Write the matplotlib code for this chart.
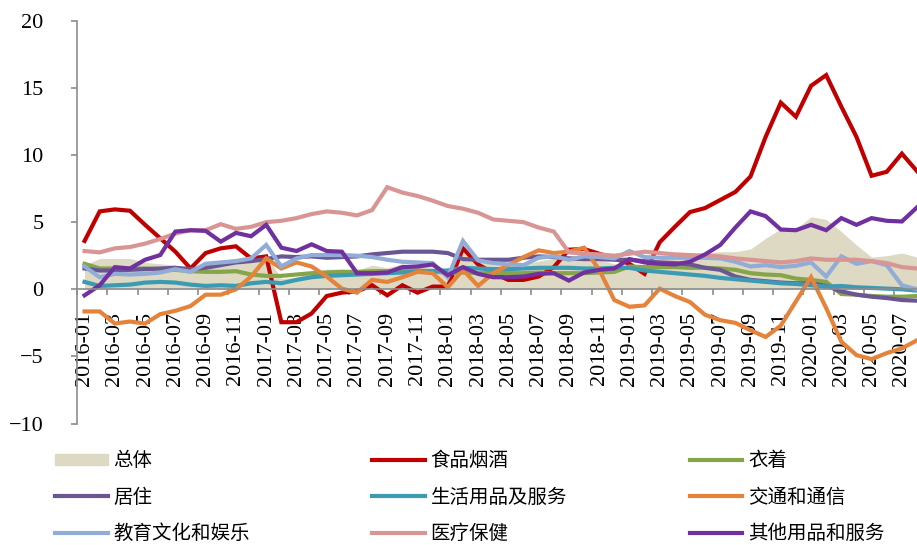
import numpy as np
import matplotlib
matplotlib.use("Agg")
import matplotlib.pyplot as plt
from matplotlib.patches import Patch

# months 2016-01 .. 2020-08
months = [f"{y}-{m:02d}" for y in range(2016, 2021) for m in range(1, 13)][:56]

total = [1.8, 2.3, 2.3, 2.3, 2.0, 1.9, 1.8, 1.3, 1.9, 2.1, 2.3, 2.1,
         2.5, 0.8, 0.9, 1.2, 1.5, 1.5, 1.4, 1.8, 1.6, 1.9, 1.7, 1.8,
         1.5, 2.9, 2.1, 1.8, 1.8, 1.9, 2.1, 2.3, 2.5, 2.5, 2.2, 1.9,
         1.7, 1.5, 2.3, 2.5, 2.7, 2.7, 2.8, 2.8, 3.0, 3.8, 4.5, 4.5,
         5.4, 5.2, 4.3, 3.3, 2.4, 2.5, 2.7, 2.4]

food = [3.6, 5.8, 5.95, 5.85, 4.8, 3.8, 2.8, 1.55, 2.7, 3.05, 3.2, 2.3,
        2.45, -2.45, -2.45, -1.8, -0.5, -0.25, -0.15, 0.3, -0.45, 0.3, -0.25, 0.2,
        0.2, 3.05, 1.85, 1.2, 0.7, 0.7, 0.95, 1.65, 2.95, 3.0, 2.65, 2.3,
        1.9, 1.15, 3.5, 4.65, 5.75, 6.05, 6.65, 7.25, 8.4, 11.35,
        13.9, 12.85, 15.15, 15.95, 13.6, 11.35, 8.45, 8.75, 10.1, 8.8]

clothing = [1.9, 1.55, 1.55, 1.55, 1.55, 1.5, 1.45, 1.35, 1.3, 1.3, 1.35, 1.1,
            1.0, 1.0, 1.1, 1.2, 1.25, 1.3, 1.3, 1.35, 1.35, 1.4, 1.4, 1.35,
            1.2, 1.25, 1.2, 1.2, 1.2, 1.2, 1.25, 1.2, 1.2, 1.2, 1.25, 1.3,
            1.7, 1.65, 1.65, 1.65, 1.6, 1.6, 1.55, 1.45, 1.2, 1.1,
            1.05, 0.8, 0.7, 0.55, -0.35, -0.4, -0.5, -0.55, -0.55, -0.5]

housing = [1.55, 1.4, 1.4, 1.45, 1.5, 1.55, 1.6, 1.5, 1.6, 1.8, 2.0, 2.1,
           2.25, 2.45, 2.4, 2.45, 2.35, 2.4, 2.45, 2.6, 2.7, 2.8, 2.8, 2.8,
           2.7, 2.25, 2.2, 2.2, 2.2, 2.35, 2.45, 2.4, 2.3, 2.25, 2.25, 2.2,
           2.2, 2.1, 2.0, 1.95, 1.85, 1.6, 1.45, 0.95, 0.7, 0.6,
           0.5, 0.45, 0.45, 0.25, -0.15, -0.4, -0.55, -0.65, -0.8, -0.85]

household = [0.55, 0.25, 0.3, 0.35, 0.5, 0.55, 0.5, 0.35, 0.25, 0.3, 0.25, 0.45,
             0.55, 0.45, 0.7, 0.9, 1.0, 1.05, 1.1, 1.15, 1.2, 1.25, 1.3, 1.35,
             1.4, 1.6, 1.55, 1.5, 1.5, 1.55, 1.6, 1.6, 1.6, 1.55, 1.55, 1.6,
             1.6, 1.4, 1.3, 1.2, 1.1, 1.0, 0.85, 0.75, 0.65, 0.55,
             0.45, 0.4, 0.3, 0.2, 0.25, 0.15, 0.1, 0.05, 0.0, -0.1]

transport = [-1.65, -1.65, -2.55, -2.4, -2.55, -1.85, -1.6, -1.25, -0.4, -0.4, 0.0, 0.95,
             2.3, 1.55, 2.0, 1.7, 0.95, 0.05, -0.25, 0.7, 0.55, 0.9, 1.3, 1.2,
             0.15, 1.45, 0.25, 1.2, 1.8, 2.4, 2.9, 2.7, 2.8, 3.1, 1.45, -0.8,
             -1.3, -1.2, 0.05, -0.5, -0.95, -1.9, -2.3, -2.5, -3.05, -3.55,
             -2.7, -0.9, 0.9, -1.4, -3.9, -4.9, -5.2, -4.75, -4.4, -3.8]

education = [1.7, 0.9, 1.15, 1.1, 1.15, 1.25, 1.5, 1.3, 1.9, 2.0, 2.1, 2.3,
             3.3, 1.7, 2.3, 2.55, 2.55, 2.55, 2.5, 2.4, 2.2, 2.05, 2.0, 1.95,
             0.9, 3.6, 2.15, 1.95, 1.85, 1.8, 2.35, 2.45, 2.2, 2.45, 2.4, 2.3,
             2.85, 2.4, 2.35, 2.35, 2.35, 2.35, 2.3, 2.05, 1.7, 1.8,
             1.65, 1.75, 2.0, 0.95, 2.45, 1.9, 2.1, 1.8, 0.3, 0.0]

medical = [2.85, 2.75, 3.05, 3.15, 3.4, 3.75, 4.15, 4.4, 4.4, 4.85, 4.5, 4.65,
           5.0, 5.1, 5.3, 5.6, 5.8, 5.7, 5.5, 5.9, 7.6, 7.2, 6.95, 6.6,
           6.2, 6.0, 5.7, 5.2, 5.1, 5.0, 4.6, 4.3, 2.75, 2.65, 2.6, 2.5,
           2.65, 2.8, 2.7, 2.6, 2.55, 2.5, 2.45, 2.3, 2.2, 2.1,
           2.0, 2.1, 2.3, 2.2, 2.2, 2.2, 2.1, 1.95, 1.65, 1.55]

other = [-0.45, 0.3, 1.65, 1.55, 2.2, 2.55, 4.3, 4.4, 4.35, 3.55, 4.2, 3.95,
         4.8, 3.1, 2.85, 3.35, 2.85, 2.8, 1.2, 1.2, 1.25, 1.65, 1.7, 1.85,
         1.05, 1.65, 1.15, 0.9, 0.9, 0.95, 1.15, 1.2, 0.65, 1.25, 1.45, 1.55,
         2.25, 2.0, 1.9, 1.85, 2.05, 2.6, 3.3, 4.6, 5.8, 5.45,
         4.45, 4.4, 4.8, 4.4, 5.3, 4.8, 5.3, 5.1, 5.05, 6.1]

labels = ["食品烟酒", "衣着", "居住", "生活用品及服务", "交通和通信",
          "教育文化和娱乐", "医疗保健", "其他用品和服务"]
colors = ["#C00000", "#86A54B", "#6B5694", "#3C9AB2", "#E5833A",
          "#91ACD6", "#D99593", "#7030A0"]
series = [food, clothing, housing, household, transport, education, medical, other]

cjk = ["Noto Sans CJK SC", "DejaVu Sans"]
serif = "Liberation Serif"
grey = "#8C8C8C"

fig = plt.figure(figsize=(9.17, 5.45), dpi=100)
ax = fig.add_axes([77 / 917, 1 - 423.6 / 545, 840 / 917, 402.9 / 545])

x = np.arange(len(months))
ax.fill_between(x, 0, total, color="#DDD9C3", lw=0, zorder=1)
handles = {}
for vals, lab, c in zip(series, labels, colors):
    handles[lab] = ax.plot(x, vals, color=c, lw=3, solid_joinstyle="miter", zorder=2)[0]

ax.set_xlim(-0.5, 55.0)
ax.set_ylim(-10, 20)
ax.set_yticks(range(-10, 21, 5))

ax.spines["top"].set_visible(False)
ax.spines["right"].set_visible(False)
ax.spines["bottom"].set_position(("data", 0))
for s in ("left", "bottom"):
    ax.spines[s].set_color(grey)
    ax.spines[s].set_linewidth(1.2)

ax.set_xticks(x[::2])
ax.set_xticklabels(months[::2], rotation=90, fontfamily=serif, fontsize=16)
ax.set_xticks(np.arange(-0.5, 55, 2), minor=True)
ax.tick_params(axis="x", which="major", length=0, pad=16)
ax.tick_params(axis="x", which="minor", length=4, width=1.2, color=grey)
ax.tick_params(axis="y", length=4, width=1.2, color=grey, pad=20, labelsize=16)
for t in ax.get_yticklabels():
    t.set_fontfamily(serif)

# legend, row-wise order as in the original
leg_items = [("总体", Patch(color="#DDD9C3")),
             ("居住", handles["居住"]),
             ("教育文化和娱乐", handles["教育文化和娱乐"]),
             ("食品烟酒", handles["食品烟酒"]),
             ("生活用品及服务", handles["生活用品及服务"]),
             ("医疗保健", handles["医疗保健"]),
             ("衣着", handles["衣着"]),
             ("交通和通信", handles["交通和通信"]),
             ("其他用品和服务", handles["其他用品和服务"])]
fig.legend([h for _, h in leg_items], [l for l, _ in leg_items],
           loc="upper left", bbox_to_anchor=(55 / 917, 1 - 450 / 545),
           ncol=3, frameon=False, borderpad=0, borderaxespad=0,
           handlelength=2.7, handleheight=0.5, handletextpad=0.3,
           columnspacing=6.3, labelspacing=0.8,
           prop={"family": cjk, "size": 14})

fig.savefig("out.png", dpi=100)
